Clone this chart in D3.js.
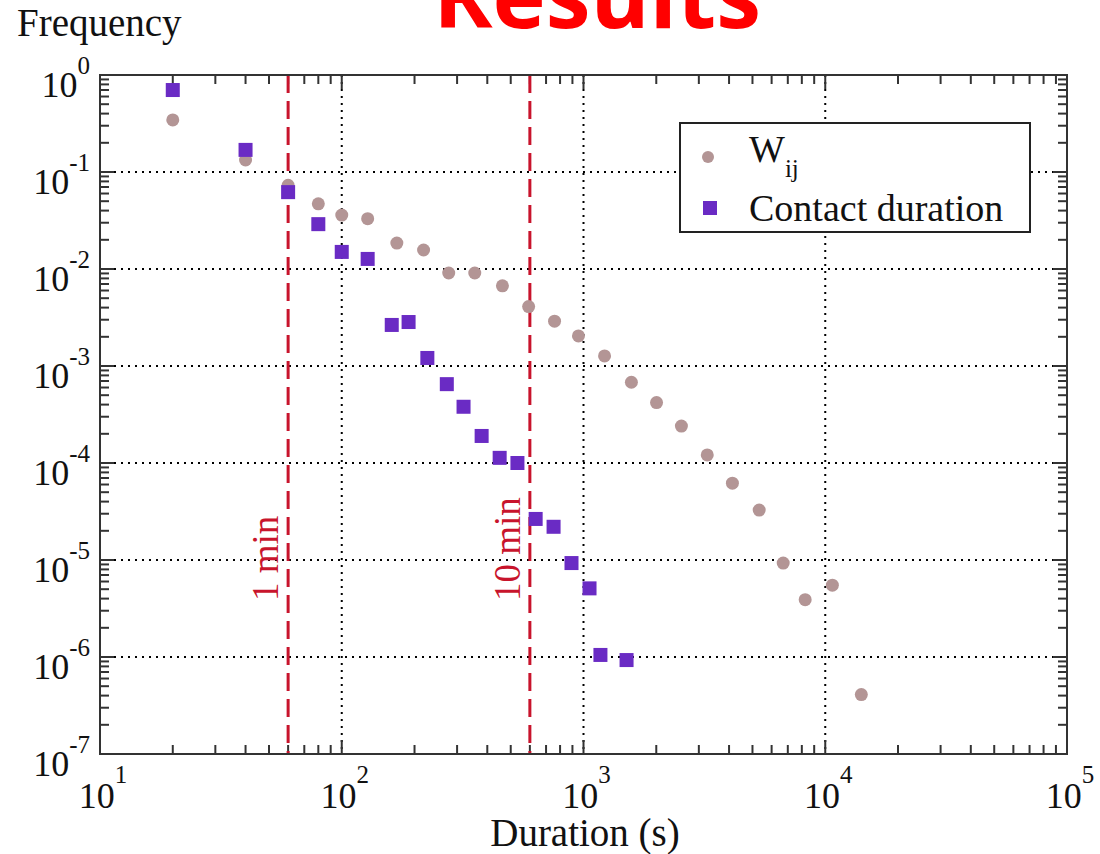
<!DOCTYPE html>
<html>
<head>
<meta charset="utf-8">
<script src="https://cdn.jsdelivr.net/npm/d3@7"></script>
<style>
  body { margin: 0; background: #fff; }
  svg { display: block; }
</style>
</head>
<body>
<svg width="1100" height="854"></svg>
<script>
// contact duration histogram (squares)
var contactX = [20, 40, 60, 80, 100, 128, 161, 189, 226, 272, 319, 379, 450, 533, 634, 752, 892, 1059, 1175, 1507];
var contactY = [0.70, 0.169, 0.062, 0.029, 0.015, 0.0127, 0.00265, 0.00284, 0.00121, 6.5e-4, 3.8e-4, 1.9e-4, 1.13e-4, 1.0e-4, 2.65e-5, 2.2e-5, 9.3e-6, 5.1e-6, 1.05e-6, 9.3e-7];

// W_ij histogram (circles)
var wX = [20, 40, 60, 80, 100, 128, 169, 218, 277, 355, 462, 593, 759, 953, 1222, 1578, 2005, 2541, 3250, 4130, 5330, 6700, 8260, 10700, 14100];
var wY = [0.344, 0.133, 0.073, 0.047, 0.036, 0.033, 0.0185, 0.0157, 0.0091, 0.0091, 0.0067, 0.0041, 0.0029, 0.00204, 0.00127, 6.8e-4, 4.2e-4, 2.4e-4, 1.21e-4, 6.2e-5, 3.27e-5, 9.3e-6, 3.9e-6, 5.5e-6, 4.1e-7];

var markerX = [60, 600];
var markerLabels = ["1 min", "10 min"];

var xExps = [1, 2, 3, 4, 5];
var yExps = [0, -1, -2, -3, -4, -5, -6, -7];

var plotLeft = 100, plotRight = 1067, plotTop = 75, plotBottom = 754;
var serif = "'Liberation Serif', 'Times New Roman', serif";
var circleColor = "#b39595";
var squareColor = "#6a2bc4";
var red = "#c8142c";

var svg = d3.select("svg");

var x = d3.scaleLog().domain([10, 1e5]).range([plotLeft, plotRight]);
var y = d3.scaleLog().domain([1e-7, 1]).range([plotBottom, plotTop]);

// title, cut off at the top like the slide
svg.append("text")
    .attr("x", 597)
    .attr("y", 28)
    .attr("text-anchor", "middle")
    .style("font-family", "'Open Sans', 'Liberation Sans', sans-serif")
    .style("font-weight", "bold")
    .style("font-size", "90px")
    .attr("fill", "#ff0000")
    .text("Results");

// grid
var grid = svg.append("g");
grid.selectAll(".gx")
  .data(xExps.slice(1, -1))
  .enter().append("line")
    .attr("x1", d => x(Math.pow(10, d)))
    .attr("x2", d => x(Math.pow(10, d)))
    .attr("y1", plotTop)
    .attr("y2", plotBottom);
grid.selectAll(".gy")
  .data(yExps.slice(1, -1))
  .enter().append("line")
    .attr("x1", plotLeft)
    .attr("x2", plotRight)
    .attr("y1", d => y(Math.pow(10, d)))
    .attr("y2", d => y(Math.pow(10, d)));
grid.selectAll("line")
    .attr("stroke", "#000")
    .attr("stroke-width", 2)
    .attr("stroke-dasharray", "2,5");

// ticks on all four sides, pointing in
var xTicks = x.ticks();
var yTicks = y.ticks();
var isMajor = v => Math.abs(Math.log10(v) - Math.round(Math.log10(v))) < 1e-6;
var ticks = svg.append("g").attr("stroke", "#333").attr("stroke-width", 2);
xTicks.forEach(function(v) {
  var len = isMajor(v) ? 14 : 9;
  ticks.append("line").attr("x1", x(v)).attr("x2", x(v)).attr("y1", plotBottom).attr("y2", plotBottom - len);
  ticks.append("line").attr("x1", x(v)).attr("x2", x(v)).attr("y1", plotTop).attr("y2", plotTop + len);
});
yTicks.forEach(function(v) {
  var len = isMajor(v) ? 14 : 9;
  ticks.append("line").attr("y1", y(v)).attr("y2", y(v)).attr("x1", plotLeft).attr("x2", plotLeft + len);
  ticks.append("line").attr("y1", y(v)).attr("y2", y(v)).attr("x1", plotRight).attr("x2", plotRight - len);
});

// vertical marker lines
var marks = svg.append("g");
marks.selectAll("line")
  .data(markerX)
  .enter().append("line")
    .attr("x1", d => x(d))
    .attr("x2", d => x(d))
    .attr("y1", plotTop)
    .attr("y2", plotBottom)
    .attr("stroke", red)
    .attr("stroke-width", 3)
    .attr("stroke-dasharray", "18,8");
marks.selectAll("text")
  .data(markerX)
  .enter().append("text")
    .attr("transform", d => "translate(" + (x(d) - 10) + ",601) rotate(-90)")
    .style("font-family", serif)
    .style("font-size", "37px")
    .attr("fill", red)
    .text((d, i) => markerLabels[i]);

// frame
svg.append("rect")
    .attr("x", plotLeft)
    .attr("y", plotTop)
    .attr("width", plotRight - plotLeft)
    .attr("height", plotBottom - plotTop)
    .attr("fill", "none")
    .attr("stroke", "#333")
    .attr("stroke-width", 2);

// points
svg.append("g").selectAll("circle")
  .data(wX)
  .enter().append("circle")
    .attr("cx", d => x(d))
    .attr("cy", (d, i) => y(wY[i]))
    .attr("r", 6.5)
    .attr("fill", circleColor);

svg.append("g").selectAll("rect")
  .data(contactX)
  .enter().append("rect")
    .attr("x", d => x(d) - 7)
    .attr("y", (d, i) => y(contactY[i]) - 7)
    .attr("width", 14)
    .attr("height", 14)
    .attr("fill", squareColor);

// tick labels
var yLab = svg.append("g")
    .style("font-family", serif)
    .attr("fill", "#111");
yExps.forEach(function(e) {
  var t = yLab.append("text")
      .attr("x", 90)
      .attr("y", y(Math.pow(10, e)) + 22)
      .attr("text-anchor", "end")
      .style("font-size", "36px");
  t.append("tspan").text("10");
  t.append("tspan").attr("dy", -23).style("font-size", "25px").text(e);
});

var xLab = svg.append("g")
    .style("font-family", serif)
    .attr("fill", "#111");
xExps.forEach(function(e) {
  var t = xLab.append("text")
      .attr("x", x(Math.pow(10, e)) + 3)
      .attr("y", plotBottom + 54)
      .attr("text-anchor", "middle")
      .style("font-size", "36px");
  t.append("tspan").text("10");
  t.append("tspan").attr("dy", -25).style("font-size", "25px").text(e);
});

// axis titles
svg.append("text")
    .attr("x", 17)
    .attr("y", 36)
    .style("font-family", serif)
    .style("font-size", "39px")
    .attr("fill", "#111")
    .text("Frequency");

svg.append("text")
    .attr("x", 585)
    .attr("y", 846)
    .attr("text-anchor", "middle")
    .style("font-family", serif)
    .style("font-size", "39px")
    .attr("fill", "#111")
    .text("Duration (s)");

// legend
var legend = svg.append("g");
legend.append("rect")
    .attr("x", 680)
    .attr("y", 123)
    .attr("width", 350)
    .attr("height", 109)
    .attr("fill", "#fff")
    .attr("stroke", "#222")
    .attr("stroke-width", 2);
legend.append("circle")
    .attr("cx", 708)
    .attr("cy", 157)
    .attr("r", 6)
    .attr("fill", circleColor);
legend.append("rect")
    .attr("x", 703)
    .attr("y", 201)
    .attr("width", 14)
    .attr("height", 14)
    .attr("fill", squareColor);
var wt = legend.append("text")
    .attr("x", 749)
    .attr("y", 162)
    .style("font-family", serif)
    .style("font-size", "38px")
    .attr("fill", "#111");
wt.append("tspan").text("W");
wt.append("tspan").attr("dy", 15).style("font-size", "25px").text("ij");
legend.append("text")
    .attr("x", 749)
    .attr("y", 221)
    .style("font-family", serif)
    .style("font-size", "38px")
    .attr("fill", "#111")
    .text("Contact duration");
</script>
</body>
</html>
